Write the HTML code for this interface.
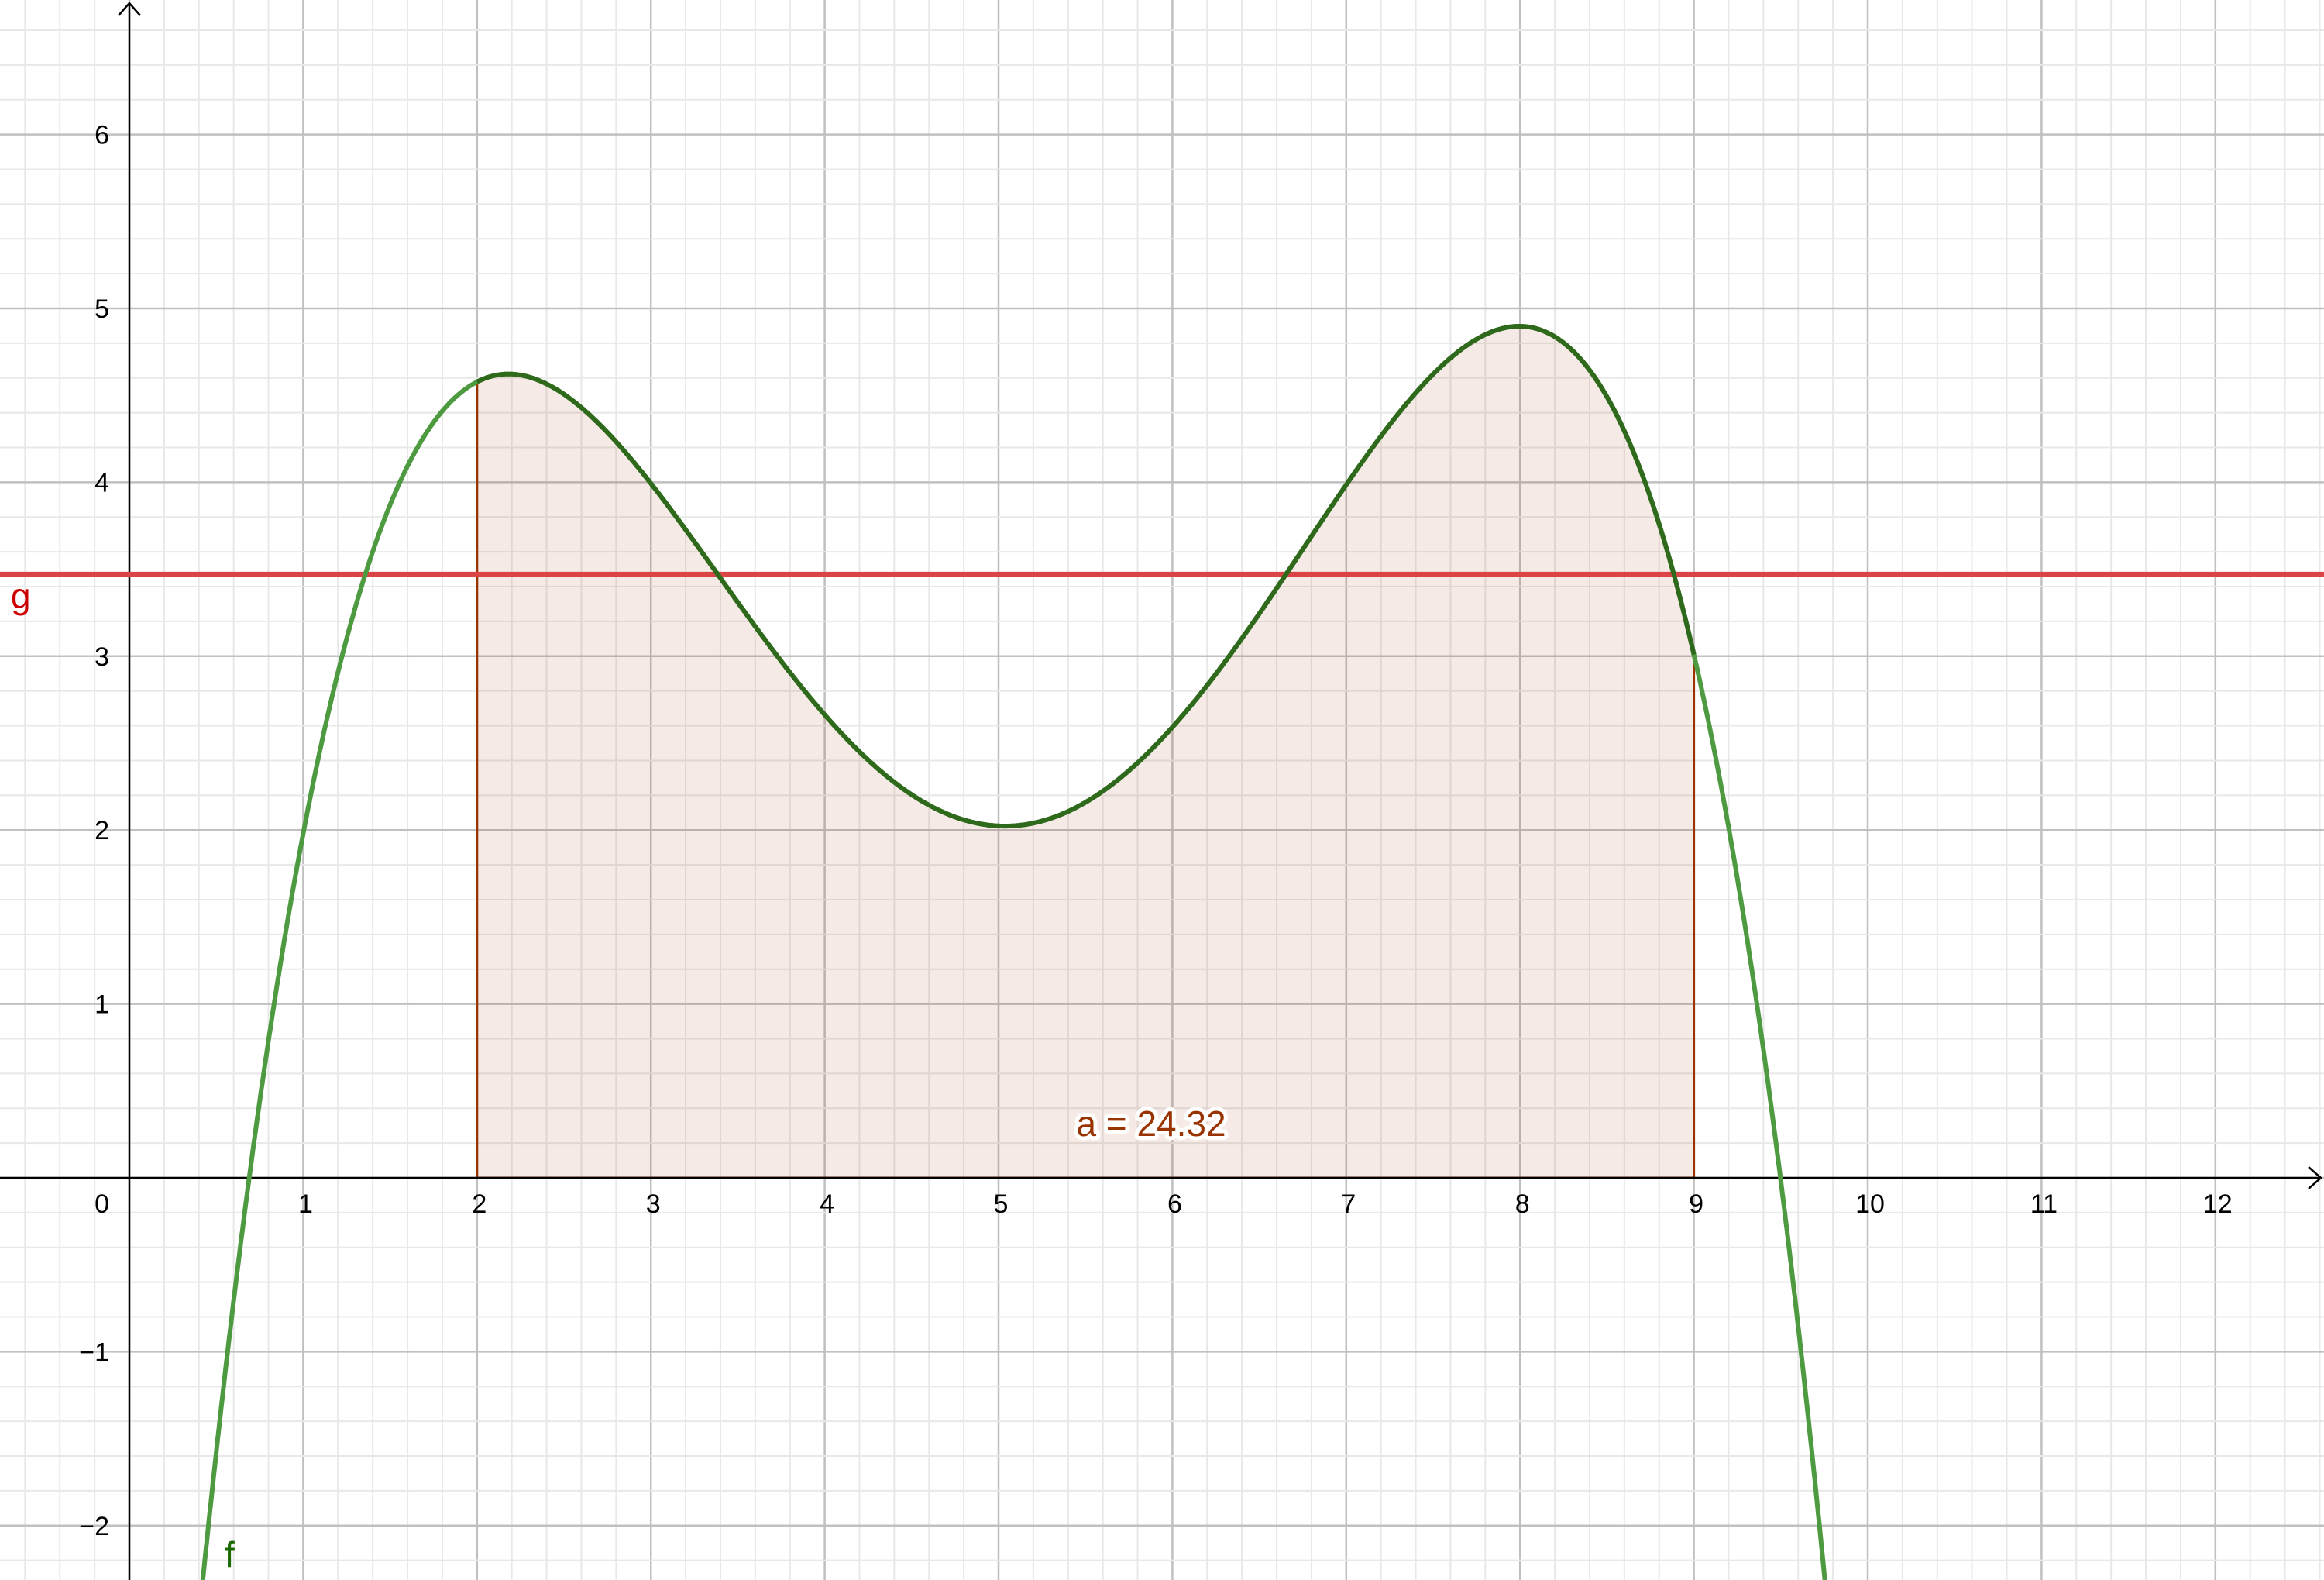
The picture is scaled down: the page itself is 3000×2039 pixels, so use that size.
<!DOCTYPE html>
<html><head><meta charset="utf-8"><style>
html,body{margin:0;padding:0;background:#fff;overflow:hidden;width:3000px;height:2039px}
svg{display:block;position:absolute;left:0;top:0}
text{font-family:"Liberation Sans",sans-serif}
</style></head><body>
<svg id="chart" width="3000" height="2039" viewBox="0 0 3000 2039" xmlns="http://www.w3.org/2000/svg">
<g id="grid"></g>
<g id="area"></g>
<g id="axes"></g>
<g id="curves"></g>
<g id="labels"></g>
</svg>
<script>
const fX = [0.42, 0.7, 0.97, 1.13, 1.21, 1.35, 1.47, 1.57, 1.69, 1.83, 2.0, 2.19, 2.38, 2.58, 2.78, 3.0, 3.18, 3.38, 3.72, 4.0, 4.5, 5.0, 5.5, 6.0, 6.39, 6.63, 7.0, 7.2, 7.4, 7.6, 7.8, 8.0, 8.2, 8.4, 8.58, 8.72, 8.88, 9.0, 9.1, 9.22, 9.5, 9.75];
const fY = [-2.31, 0.0, 1.87, 2.59, 3.0, 3.47, 3.79, 4.0, 4.23, 4.43, 4.57, 4.62, 4.58, 4.47, 4.28, 4.0, 3.75, 3.47, 3.0, 2.66, 2.2, 2.0, 2.17, 2.6, 3.08, 3.47, 4.0, 4.26, 4.5, 4.7, 4.84, 4.89, 4.84, 4.66, 4.34, 4.0, 3.47, 3.0, 2.5, 1.97, 0.0, -2.3];
const gValue = [3.47];
const areaBounds = [2, 9];
const areaLabel = ["a = 24.32"];
const xTicks = [1,2,3,4,5,6,7,8,9,10,11,12];
const yTicks = [-2,-1,1,2,3,4,5,6];

const W=3000,H=2039,OX=167,OY=1520,U=224.4;
const sx=x=>OX+x*U, sy=y=>OY-y*U;
const NS="http://www.w3.org/2000/svg";
function mk(tag,attrs,parent){const e=document.createElementNS(NS,tag);for(const k in attrs)e.setAttribute(k,attrs[k]);parent.appendChild(e);return e;}
// least-squares polynomial fit of the sampled points
const DEG=6;
const coef=(function(){
  const n=DEG+1;const A=[];for(let i=0;i<n;i++){A.push(new Array(n+1).fill(0));}
  for(let k=0;k<fX.length;k++){const t=(fX[k]-5)/5;const p=[];for(let i=0;i<n;i++)p.push(Math.pow(t,i));
    for(let i=0;i<n;i++){for(let j=0;j<n;j++)A[i][j]+=p[i]*p[j];A[i][n]+=p[i]*fY[k];}}
  for(let c=0;c<n;c++){let m=c;for(let r=c+1;r<n;r++)if(Math.abs(A[r][c])>Math.abs(A[m][c]))m=r;[A[c],A[m]]=[A[m],A[c]];
    for(let r=0;r<n;r++){if(r===c)continue;const fct=A[r][c]/A[c][c];for(let j=c;j<=n;j++)A[r][j]-=fct*A[c][j];}}
  return A.map((row,i)=>row[n]/row[i]);
})();
function f(x){const t=(x-5)/5;let s=0;for(let i=coef.length-1;i>=0;i--)s=s*t+coef[i];return s;}

const grid=document.getElementById('grid');
const xmin=-OX/U,xmax=(W-OX)/U,ymax=OY/U,ymin=(OY-H)/U;
for(let k=Math.ceil(xmin*5);k<=xmax*5;k++){const x=sx(k/5);const l=mk('line',{x1:x,x2:x,y1:0,y2:H,stroke:k%5?'#e8e8e8':'#c0c0c0','stroke-width':k%5?2:2.5},grid);

}
for(let k=Math.ceil(ymin*5);k<=ymax*5;k++){const y=sy(k/5);const l=mk('line',{x1:0,x2:W,y1:y,y2:y,stroke:k%5?'#e8e8e8':'#c0c0c0','stroke-width':k%5?2:2.5},grid);

}
const area=document.getElementById('area');
let d=`M${sx(areaBounds[0])},${sy(0)}`;
for(let x=areaBounds[0];x<=areaBounds[1]+1e-9;x+=0.01)d+=` L${sx(x).toFixed(1)},${sy(f(x)).toFixed(1)}`;
d+=` L${sx(areaBounds[1])},${sy(0)} Z`;
const ap=mk('path',{d:d,fill:'rgba(153,51,0,0.1)',stroke:'#993300','stroke-width':3},area);


const axes=document.getElementById('axes');
const xa=mk('path',{d:`M0,${OY} L${W-4},${OY} M${W-20},${OY-14} L${W-4},${OY} L${W-20},${OY+14}`,stroke:'#000','stroke-width':2.5,fill:'none'},axes);


const ya=mk('path',{d:`M${OX},${H} L${OX},4 M${OX-14},20 L${OX},4 L${OX+14},20`,stroke:'#000','stroke-width':2.5,fill:'none'},axes);


const curves=document.getElementById('curves');
const gl=mk('line',{x1:0,x2:W,y1:sy(gValue[0]),y2:sy(gValue[0]),stroke:'#db4444','stroke-width':7},curves);


function pathRange(a,b){let p='';for(let x=a;x<=b+1e-9;x+=0.005)p+=(p?' L':'M')+sx(x).toFixed(1)+','+sy(f(x)).toFixed(1);return p;}
const fc=mk('path',{d:pathRange(0.3,9.9),stroke:'#4d9a40','stroke-width':6,fill:'none'},curves);


const fc2=mk('path',{d:pathRange(areaBounds[0],areaBounds[1]),stroke:'#2f6a1c','stroke-width':6,fill:'none'},curves);


const labels=document.getElementById('labels');
xTicks.forEach(v=>{const t=mk('text',{x:sx(v)+3,y:OY+45,'font-size':34,'text-anchor':'middle',fill:'#000'},labels);t.textContent=v;

});
yTicks.forEach(v=>{const t=mk('text',{x:OX-26,y:sy(v)+12,'font-size':34,'text-anchor':'end',fill:'#000'},labels);t.textContent=v<0?'\u2212'+(-v):v;

});
const z=mk('text',{x:OX-26,y:OY+45,'font-size':34,'text-anchor':'end'},labels);z.textContent='0';


const al=mk('text',{x:1486,y:1466,'font-size':46,'text-anchor':'middle',fill:'#993300',stroke:'#fff','stroke-width':10,'paint-order':'stroke','stroke-linejoin':'round'},labels);al.textContent=areaLabel[0];


const gt=mk('text',{x:14,y:785,'font-size':46,fill:'#cc0000'},labels);gt.textContent='g';


const ft=mk('text',{x:290,y:2022,'font-size':46,fill:'#1a6a00'},labels);ft.textContent='f';


</script>
</body></html>
